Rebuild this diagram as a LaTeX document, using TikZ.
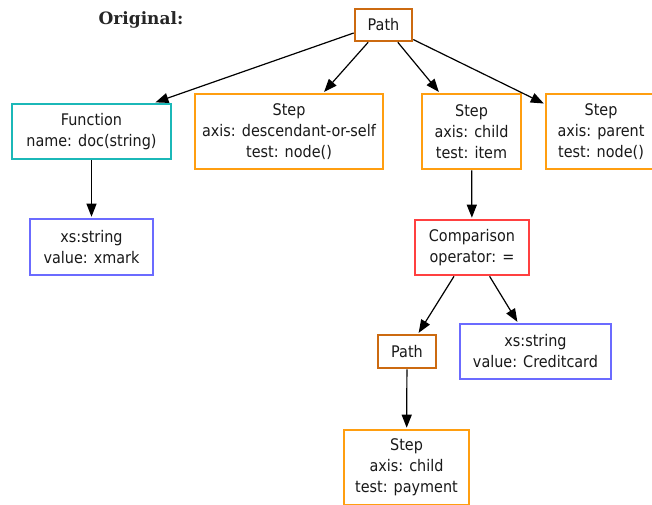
\documentclass[tikz,border=0pt]{standalone}
\usepackage{fontspec}
\setmainfont{DejaVu Sans Condensed}
\newfontfamily\titlefont{DejaVu Serif}
\usetikzlibrary{arrows.meta}
\definecolor{pathc}{HTML}{CC6A10}
\definecolor{stepc}{HTML}{FF9E10}
\definecolor{funcc}{HTML}{1BB8B8}
\definecolor{strc}{HTML}{6B6BFF}
\definecolor{cmpc}{HTML}{FF4040}
\tikzset{
  box/.style={draw, line width=2.6pt, fill=white, inner sep=0pt, align=center,
    font=\fontsize{16}{21}\selectfont, text=black!90},
  pathbox/.style={box, draw=pathc},
  stepbox/.style={box, draw=stepc},
  funcbox/.style={box, draw=funcc},
  strbox/.style={box, draw=strc},
  cmpbox/.style={box, draw=cmpc},
  edge/.style={-{Triangle[length=13pt,width=10pt]}, line width=1.2pt, shorten >=1pt}
}
\begin{document}
\begin{tikzpicture}[x=1pt,y=-1pt]
\useasboundingbox (0,0) rectangle (652,505);
\clip (0,0) rectangle (652,505);

\node[font=\titlefont\bfseries\fontsize{17}{20}\selectfont, text=black!85] (title) at (141,20) {Original:};

\node[pathbox, minimum width=57pt, minimum height=32pt] (root) at (383.5,25) {Path};
\node[funcbox, minimum width=159pt, minimum height=55pt] (func) at (91.5,131.5) {Function\\name: doc(string)};
\node[stepbox, minimum width=188pt, minimum height=75pt] (sdesc) at (289,131.5) {Step\\axis: descendant-or-self\\test: node()};
\node[stepbox, minimum width=99pt, minimum height=75pt] (schild) at (471.5,131.5) {Step\\axis: child\\test: item};
\node[stepbox, minimum width=110pt, minimum height=75pt] (sparent) at (601,131.5) {Step\\axis: parent\\test: node()};
\node[strbox, minimum width=123pt, minimum height=56pt] (sxmark) at (91.5,247) {xs:string\\value: xmark};
\node[cmpbox, minimum width=114pt, minimum height=55pt] (cmp) at (472,247.5) {Comparison\\operator: =};
\node[pathbox, minimum width=58pt, minimum height=33pt] (pmid) at (407,351.5) {Path};
\node[strbox, minimum width=151pt, minimum height=55pt] (scard) at (535.5,351.5) {xs:string\\value: Creditcard};
\node[stepbox, minimum width=125pt, minimum height=75pt] (spay) at (406.5,467.5) {Step\\axis: child\\test: payment};

\draw[edge] ([yshift=-8pt]root.west) -- ([xshift=63pt]func.north);
\draw[edge] (root) -- (sdesc);
\draw[edge] (root) -- (schild);
\draw[edge] (root) -- (sparent);
\draw[edge] (func) -- (sxmark);
\draw[edge] (schild) -- (cmp);
\draw[edge] (cmp) -- (pmid);
\draw[edge] (cmp) -- (scard);
\draw[edge] (pmid) -- (spay);
\end{tikzpicture}
\end{document}
